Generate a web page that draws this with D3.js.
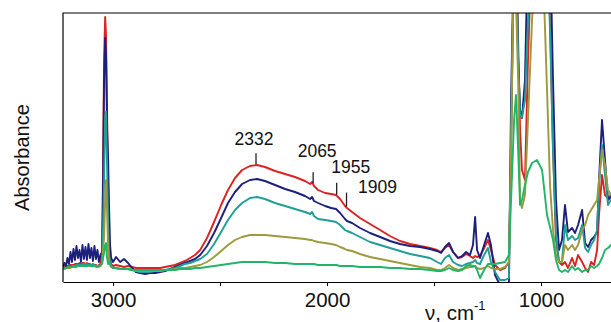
<!DOCTYPE html>
<html>
<head>
<meta charset="utf-8">
<script src="https://cdn.jsdelivr.net/npm/d3@7"></script>
<style>
  body { margin: 0; background: #fff; }
  svg { display: block; font-family: "Liberation Sans", Arial, Helvetica, sans-serif; }
</style>
</head>
<body>
<svg width="611" height="322"></svg>
<script>
// wavenumbers, cm-1 (shared by all spectra)
var wavenumber = [3234,3227,3220,3213,3206,3199,3192,3185,3178,3171,3164,3157,3150,3143,3136,3129,3122,3115,3108,3101,3094,3087,3080,3073,3066,3059,
  3051,3047,3042,3037,3033,3028,3023,3019,3014,3009,
  3000,2986,2967,2949,2930,2911,2893,2874,2850,2827,2804,2780,2757,
  2734,2710,2687,2664,2640,2617,2593,
  2561,2528,2495,2463,2430,2397,2360,2327,2290,2243,2196,2150,2103,2079,2070,2061,2042,2009,1981,1958,1939,1916,1907,1883,1846,1799,1752,1706,1659,
  1612,1565,1519,1486,1467,1449,1430,1411,1388,1369,1350,1332,1318,1308,1299,1285,1266,1248,1234,1215,1192,1168,1150,
  1140,1126,1117,1107,1098,1089,1075,1061,1042,1019,995,972,958,944,930,916,902,888,874,855,841,827,808,794,780,766,752,738,729,715,701,687,673,659];

var red = [.008,.012,.012,.016,.016,.02,.02,.02,.024,.024,.024,.028,.024,.028,.028,.024,.028,.024,.024,.02,.024,.02,.02,.016,.02,.024,
  .08,.4,.84,1.012,.94,.64,.32,.12,.048,.024,
  .016,.02,.016,.012,.016,.012,.008,.008,.008,.008,.008,.008,.012,
  .016,.02,.028,.036,.048,.06,.08,
  .128,.192,.26,.32,.368,.4,.416,.42,.412,.396,.384,.372,.356,.344,.352,.336,.32,.308,.304,.3,.284,.256,.248,.232,.208,.184,.16,.136,.116,
  .104,.096,.088,.08,.072,.088,.1,.072,.048,.052,.064,.056,.048,.056,.052,.056,.088,.12,.08,.02,0,.008,.032,
  .48,1.32,1.32,.92,.56,.4,.36,.84,1.32,1.32,1.32,1.32,1.0,.48,.12,.032,.02,.032,.008,.048,.016,.06,.032,.008,-.008,.032,.02,.08,.22,.38,.3,.288,.3,.3];

var navy = [.012,.028,.016,.048,.024,.072,.032,.084,.04,.096,.048,.08,.032,.1,.044,.092,.04,.104,.048,.088,.036,.096,.044,.08,.032,.06,
  .072,.32,.76,.928,.86,.56,.44,.26,.1,.048,
  .032,.052,.032,.044,.028,.008,-.008,-.012,-.016,-.012,-.012,-.008,-.004,
  .004,.012,.02,.028,.036,.044,.06,
  .096,.148,.208,.268,.312,.344,.36,.364,.356,.34,.324,.312,.296,.284,.292,.276,.268,.256,.248,.244,.228,.204,.196,.188,.168,.148,.132,.116,.104,
  .096,.092,.084,.076,.068,.092,.108,.072,.048,.056,.072,.06,.1,.212,.08,.048,.1,.148,.1,-.02,-.06,-.06,-.06,
  .68,1.32,1.32,.84,.64,.608,.76,1.32,1.32,1.32,1.32,1.32,1.32,.76,.28,.08,.12,.26,.152,.168,.148,.18,.24,.108,.092,.12,.132,.152,.36,.6,.44,.28,.292,.292];

var teal = [.004,.004,.008,.008,.012,.012,.016,.016,.016,.02,.02,.02,.02,.024,.024,.024,.024,.02,.02,.02,.02,.016,.016,.016,.016,.016,
  .032,.16,.36,.608,.632,.42,.18,.06,.032,.016,
  .008,.008,.004,.004,.004,0,-.004,-.008,-.008,-.008,-.004,-.004,0,
  .004,.008,.016,.024,.028,.036,.044,
  .064,.104,.152,.2,.24,.268,.288,.292,.284,.268,.256,.244,.232,.224,.232,.216,.204,.2,.196,.192,.18,.16,.156,.148,.132,.112,.1,.088,.076,
  .064,.056,.048,.032,.024,.048,.06,.032,.02,.016,.024,.028,.032,.04,.028,.024,.06,.088,.032,-.008,-.04,-.04,-.032,
  .52,1.32,1.32,.84,.62,.612,.68,1.0,1.32,1.32,1.32,1.32,.96,.48,.14,.032,.032,.18,.12,.136,.12,.128,.18,.088,.072,.1,.12,.16,.34,.5,.38,.26,.28,.28];

var olive = [.004,.004,.008,.008,.008,.008,.012,.012,.012,.012,.016,.016,.016,.016,.016,.016,.016,.016,.016,.016,.016,.016,.012,.012,.012,.016,
  .024,.08,.128,.28,.36,.232,.08,.032,.02,.012,
  .008,.008,.004,.004,.004,0,-.004,-.004,-.004,-.004,-.004,-.004,0,
  0,.004,.008,.008,.012,.016,.02,
  .032,.052,.076,.1,.12,.132,.14,.14,.14,.136,.132,.128,.124,.12,.12,.116,.112,.108,.104,.1,.092,.084,.08,.076,.064,.052,.044,.036,.028,
  .02,.012,.008,0,0,.008,.02,.008,0,.004,.008,.012,.012,.016,.008,.004,.008,.016,.008,.004,.004,.012,.032,
  .48,1.32,1.08,.76,.28,.248,.3,.6,1.0,1.32,1.32,.72,.34,.16,.06,.032,.032,.1,.08,.1,.08,.1,.16,.18,.22,.24,.26,.28,.36,.48,.42,.32,.3,.3];

var green = [.008,.008,.008,.012,.012,.012,.012,.016,.012,.016,.016,.016,.016,.02,.016,.016,.016,.02,.016,.016,.016,.02,.016,.016,.016,.02,
  .028,.048,.068,.1,.108,.048,.024,.032,.024,.016,
  .008,.008,.004,.004,.004,0,0,0,0,0,0,0,0,
  0,0,.004,.004,.004,.008,.008,
  .012,.016,.02,.024,.028,.032,.032,.032,.032,.028,.028,.024,.024,.024,.024,.024,.02,.02,.02,.02,.016,.016,.016,.016,.012,.012,.012,.008,.008,
  .004,.004,0,-.004,-.004,0,.008,0,-.004,0,.016,.02,.016,.016,0,-.032,0,.024,.024,.024,.028,.032,.06,
  .28,.6,.7,.48,.26,.28,.34,.392,.428,.44,.4,.22,.172,.12,.04,0,-.008,0,-.008,.016,0,.008,-.008,0,0,.016,.008,.016,.024,.048,.08,.088,.1,.1];

var seriesColors = ["#dc2222", "#1c1f7c", "#1f9e96", "#9c9a3c", "#22b468"];
var xTicks = [3000, 2500, 2000, 1500, 1000];
var xTickLabels = ["3000", "", "2000", "", "1000"];
var peakPos = [2332, 2065, 1955, 1909];
var peakLabels = ["2332", "2065", "1955", "1909"];

var svg = d3.select("svg");
var plotLeft = 63, plotTop = 13, plotRight = 611, plotBottom = 282;

var x = d3.scaleLinear().domain([3234, 673]).range([plotLeft, plotRight]);
var y = d3.scaleLinear().domain([-0.048, 1.028]).range([plotBottom, plotTop]);

svg.append("defs").append("clipPath").attr("id", "plotClip")
    .append("rect")
    .attr("x", plotLeft).attr("y", plotTop)
    .attr("width", plotRight - plotLeft + 10).attr("height", plotBottom - plotTop);

var series = [red, navy, teal, olive, green].map(function (vals, i) {
    return {
        color: seriesColors[i],
        points: vals.map(function (v, j) { return { w: wavenumber[j], a: v }; })
    };
});

var line = d3.line()
    .x(function (d) { return x(d.w); })
    .y(function (d) { return y(d.a); });

var gLines = svg.append("g").attr("clip-path", "url(#plotClip)");
gLines.selectAll("path")
    .data(series)
    .enter().append("path")
    .attr("d", function (d) { return line(d.points); })
    .attr("fill", "none")
    .attr("stroke", function (d) { return d.color; })
    .attr("stroke-width", 1.9)
    .attr("stroke-linejoin", "round");

// frame: top and left edges, the right side runs off the picture
svg.append("path")
    .attr("d", "M" + (plotRight + 5) + "," + plotTop + "H" + plotLeft + "V" + plotBottom)
    .attr("fill", "none")
    .attr("stroke", "#000")
    .attr("stroke-width", 1.2);

var xAxis = d3.axisBottom(x)
    .tickValues(xTicks)
    .tickFormat(function (d, i) { return xTickLabels[i]; })
    .tickSize(4)
    .tickSizeOuter(0)
    .tickPadding(6);

var gx = svg.append("g")
    .attr("transform", "translate(0," + plotBottom + ")")
    .call(xAxis);
gx.select(".domain").attr("stroke-width", 1.2);
gx.selectAll("text")
    .attr("font-size", "20.5px")
    .attr("font-family", "'Liberation Sans', Arial, sans-serif")
    .attr("fill", "#111");

// axis titles
var xt = svg.append("text")
    .attr("x", 425)
    .attr("y", 320)
    .attr("font-size", "20.5px")
    .attr("fill", "#111");
xt.append("tspan").text("\u03bd, cm");
xt.append("tspan").attr("font-size", "13px").attr("dy", -10).text("-1");

svg.append("text")
    .attr("transform", "translate(29," + ((plotTop + plotBottom) / 2 + 10) + ") rotate(-90)")
    .attr("text-anchor", "middle")
    .attr("font-size", "20px")
    .attr("fill", "#111")
    .text("Absorbance");

// peak markers on the top (red) spectrum
var redAt = d3.scaleLinear()
    .domain(wavenumber.slice().reverse())
    .range(red.slice().reverse());

var markLen = [11, 11, 12, 14];
var labelDx = [-2, 4, 14, 31];
var labelGap = [8, 15, 10, 0];

peakPos.forEach(function (w, i) {
    var px = x(w);
    var yb = y(redAt(w)) - 1;
    var yt = yb - markLen[i];
    svg.append("line")
        .attr("x1", px).attr("x2", px)
        .attr("y1", yb).attr("y2", yt)
        .attr("stroke", "#222")
        .attr("stroke-width", 1.3);
    svg.append("text")
        .attr("x", px + labelDx[i])
        .attr("y", yt - labelGap[i])
        .attr("text-anchor", "middle")
        .attr("font-size", "17.5px")
        .attr("fill", "#111")
        .text(peakLabels[i]);
});
</script>
</body>
</html>
